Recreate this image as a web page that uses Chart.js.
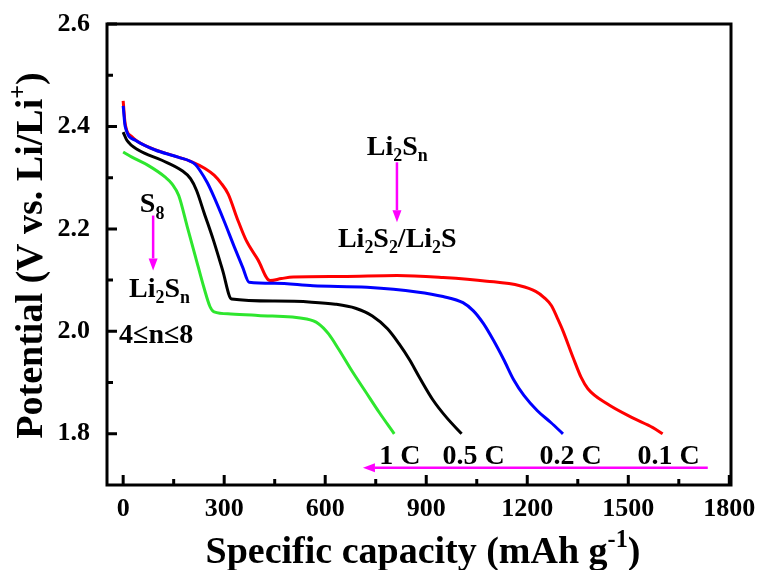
<!DOCTYPE html>
<html>
<head>
<meta charset="utf-8">
<script src="https://cdn.jsdelivr.net/npm/chart.js@4.4.1/dist/chart.umd.min.js"></script>
<style>
  html, body { margin: 0; padding: 0; background: #fff; }
  #wrap { width: 762px; height: 570px; position: relative; }
</style>
</head>
<body>
<div id="wrap"><canvas id="capChart"></canvas></div>
<script>
const SERIF = "'Liberation Serif', 'Times New Roman', serif"

// discharge profiles: capacity (mAh/g) and potential (V)
const cap01C = [0, 6, 26, 74, 144, 204, 243, 270, 290, 312, 340, 365, 400, 436, 470, 505, 650, 813, 950, 1080, 1178, 1225, 1250, 1272, 1290, 1306, 1336, 1360, 1380, 1436, 1513, 1573, 1602]
const volt01C = [2.45, 2.405, 2.38, 2.36, 2.344, 2.331, 2.318, 2.305, 2.29, 2.268, 2.218, 2.178, 2.14, 2.099, 2.103, 2.106, 2.107, 2.109, 2.105, 2.098, 2.089, 2.078, 2.066, 2.05, 2.025, 2.001, 1.949, 1.91, 1.888, 1.859, 1.831, 1.812, 1.80]

const cap02C = [0, 6, 36, 95, 163, 214, 228, 250, 270, 300, 330, 355, 374, 450, 564, 724, 872, 950, 1009, 1040, 1070, 1100, 1130, 1160, 1190, 1230, 1270, 1306]
const volt02C = [2.44, 2.40, 2.373, 2.354, 2.34, 2.326, 2.314, 2.29, 2.262, 2.215, 2.165, 2.125, 2.096, 2.094, 2.089, 2.086, 2.077, 2.068, 2.056, 2.04, 2.015, 1.982, 1.945, 1.905, 1.875, 1.845, 1.822, 1.80]

const cap05C = [0, 11, 45, 115, 174, 200, 218, 240, 268, 295, 322, 450, 560, 630, 690, 740, 785, 820, 850, 880, 920, 960, 1005]
const volt05C = [2.389, 2.373, 2.354, 2.334, 2.314, 2.298, 2.275, 2.232, 2.178, 2.12, 2.063, 2.059, 2.057, 2.053, 2.045, 2.03, 2.005, 1.975, 1.945, 1.91, 1.866, 1.832, 1.80]

const cap1C = [0, 26, 74, 125, 145, 165, 190, 215, 240, 258, 270, 320, 400, 545, 580, 610, 640, 680, 720, 760, 805]
const volt1C = [2.35, 2.34, 2.324, 2.301, 2.288, 2.265, 2.205, 2.145, 2.085, 2.048, 2.038, 2.034, 2.031, 2.024, 2.015, 1.995, 1.965, 1.922, 1.882, 1.842, 1.80]

const rates = ['1 C', '0.5 C', '0.2 C', '0.1 C']

const xMajor = [0, 300, 600, 900, 1200, 1500, 1800]
const xMinor = [150, 450, 750, 1050, 1350, 1650]
const yMajor = [1.8, 2.0, 2.2, 2.4, 2.6]
const yMinor = [1.9, 2.1, 2.3, 2.5]

const toPts = (xs, ys) => xs.map((x, i) => ({ x: x, y: ys[i] }))

// text notes placed in data units
const notes = [
    { parts: [['S', ''], ['8', 'sub']], x: 86, y: 2.232 },
    { parts: [['Li', ''], ['2', 'sub'], ['S', ''], ['n', 'sub']], x: 108, y: 2.068 },
    { parts: [['4≤n≤8', '']], x: 98, y: 1.978 },
    { parts: [['Li', ''], ['2', 'sub'], ['S', ''], ['n', 'sub']], x: 814, y: 2.344 },
    { parts: [['Li', ''], ['2', 'sub'], ['S', ''], ['2', 'sub'], ['/Li', ''], ['2', 'sub'], ['S', '']], x: 814, y: 2.164 },
    { parts: [[rates[0], '']], x: 822, y: 1.741 },
    { parts: [[rates[1], '']], x: 1041, y: 1.741 },
    { parts: [[rates[2], '']], x: 1329, y: 1.741 },
    { parts: [[rates[3], '']], x: 1620, y: 1.741 }
]
const arrows = [
    { x1: 89, y1: 2.226, x2: 89, y2: 2.119 },
    { x1: 813, y1: 2.330, x2: 813, y2: 2.213 },
    { x1: 1736, y1: 1.7335, x2: 712, y2: 1.7335 }
]

function drawRich(c, parts, x, y, size, align) {
    const small = size * 0.64
    let w = 0
    parts.forEach(([t, k]) => {
        c.font = `bold ${k ? small : size}px ${SERIF}`
        w += c.measureText(t).width
    })
    let cx = align === 'center' ? x - w / 2 : x
    parts.forEach(([t, k]) => {
        c.font = `bold ${k ? small : size}px ${SERIF}`
        const dy = k === 'sub' ? size * 0.22 : (k === 'sup' ? -size * 0.42 : 0)
        c.fillText(t, cx, y + dy)
        cx += c.measureText(t).width
    })
}

function drawArrow(c, x1, y1, x2, y2) {
    const ang = Math.atan2(y2 - y1, x2 - x1)
    const len = 12, half = 4.5
    const bx = x2 - len * Math.cos(ang), by = y2 - len * Math.sin(ang)
    c.beginPath()
    c.moveTo(x1, y1)
    c.lineTo(bx, by)
    c.stroke()
    c.beginPath()
    c.moveTo(x2, y2)
    c.lineTo(bx + half * Math.sin(ang), by - half * Math.cos(ang))
    c.lineTo(bx - half * Math.sin(ang), by + half * Math.cos(ang))
    c.closePath()
    c.fill()
}

const decorPlugin = {
    id: 'decor',
    afterDraw(chart) {
        const c = chart.ctx
        const a = chart.chartArea
        const xs = chart.scales.x, ys = chart.scales.y
        c.save()

        // frame + inward ticks
        c.strokeStyle = '#000'
        c.lineWidth = 3
        c.strokeRect(a.left, a.top, a.right - a.left, a.bottom - a.top)
        c.beginPath()
        xMajor.forEach(v => { const p = xs.getPixelForValue(v); c.moveTo(p, a.bottom); c.lineTo(p, a.bottom - 10) })
        xMinor.forEach(v => { const p = xs.getPixelForValue(v); c.moveTo(p, a.bottom); c.lineTo(p, a.bottom - 6) })
        yMajor.forEach(v => { const p = ys.getPixelForValue(v); c.moveTo(a.left, p); c.lineTo(a.left + 10, p) })
        yMinor.forEach(v => { const p = ys.getPixelForValue(v); c.moveTo(a.left, p); c.lineTo(a.left + 6, p) })
        c.stroke()

        // notes
        c.fillStyle = '#000'
        c.textBaseline = 'alphabetic'
        c.textAlign = 'left'
        notes.forEach(n => drawRich(c, n.parts, xs.getPixelForValue(n.x), ys.getPixelForValue(n.y), 28, 'center'))

        c.strokeStyle = '#ff00ff'
        c.fillStyle = '#ff00ff'
        c.lineWidth = 2.5
        arrows.forEach(r => drawArrow(c, xs.getPixelForValue(r.x1), ys.getPixelForValue(r.y1),
            xs.getPixelForValue(r.x2), ys.getPixelForValue(r.y2)))

        // axis titles
        c.fillStyle = '#000'
        drawRich(c, [['Specific capacity (mAh g', ''], ['-1', 'sup'], [')', '']], (a.left + a.right) / 2 + 4, 563, 38, 'center')
        c.translate(42, (a.top + a.bottom) / 2 + 1)
        c.rotate(-Math.PI / 2)
        drawRich(c, [['Potential (V vs. Li/Li', ''], ['+', 'sup'], [')', '']], 0, 0, 38, 'center')
        c.restore()
    }
}

// keep the plot box fixed: drop the label overhang padding
const noPad = s => { s.paddingTop = 0; s.paddingBottom = 0; s.paddingLeft = 0; s.paddingRight = 0 }

const ctx = document.getElementById('capChart').getContext('2d')

const line = (label, xs, ys, color) => ({
    label: label,
    data: toPts(xs, ys),
    borderColor: color,
    backgroundColor: color,
    borderWidth: 3,
    pointRadius: 0,
    cubicInterpolationMode: 'monotone',
    fill: false
})

const chart = new Chart(ctx, {
    type: 'line',
    data: {
        datasets: [
            line(rates[0], cap1C, volt1C, '#2ee62e'),
            line(rates[1], cap05C, volt05C, '#000000'),
            line(rates[2], cap02C, volt02C, '#0000ff'),
            line(rates[3], cap01C, volt01C, '#ff0000')
        ]
    },
    options: {
        responsive: true,
        maintainAspectRatio: false,
        animation: false,
        layout: { padding: { left: 0, top: 24, right: 31, bottom: 35 } },
        plugins: {
            legend: { display: false },
            tooltip: { enabled: false }
        },
        scales: {
            x: {
                type: 'linear',
                min: -48,
                max: 1805,
                afterBuildTicks: s => { s.ticks = xMajor.map(v => ({ value: v })) },
                afterFit: s => { s.height = 50; noPad(s) },
                grid: { display: false, drawTicks: false },
                border: { display: false },
                ticks: {
                    padding: 9,
                    color: '#000',
                    maxRotation: 0,
                    font: { family: SERIF, size: 26, weight: 'bold' },
                    callback: v => String(v)
                }
            },
            y: {
                type: 'linear',
                min: 1.7,
                max: 2.6,
                afterBuildTicks: s => { s.ticks = yMajor.map(v => ({ value: v })) },
                afterFit: s => { s.width = 107; noPad(s) },
                grid: { display: false, drawTicks: false },
                border: { display: false },
                ticks: {
                    padding: 17,
                    color: '#000',
                    font: { family: SERIF, size: 26, weight: 'bold' },
                    callback: v => v.toFixed(1)
                }
            }
        }
    },
    plugins: [decorPlugin]
})
</script>
</body>
</html>
